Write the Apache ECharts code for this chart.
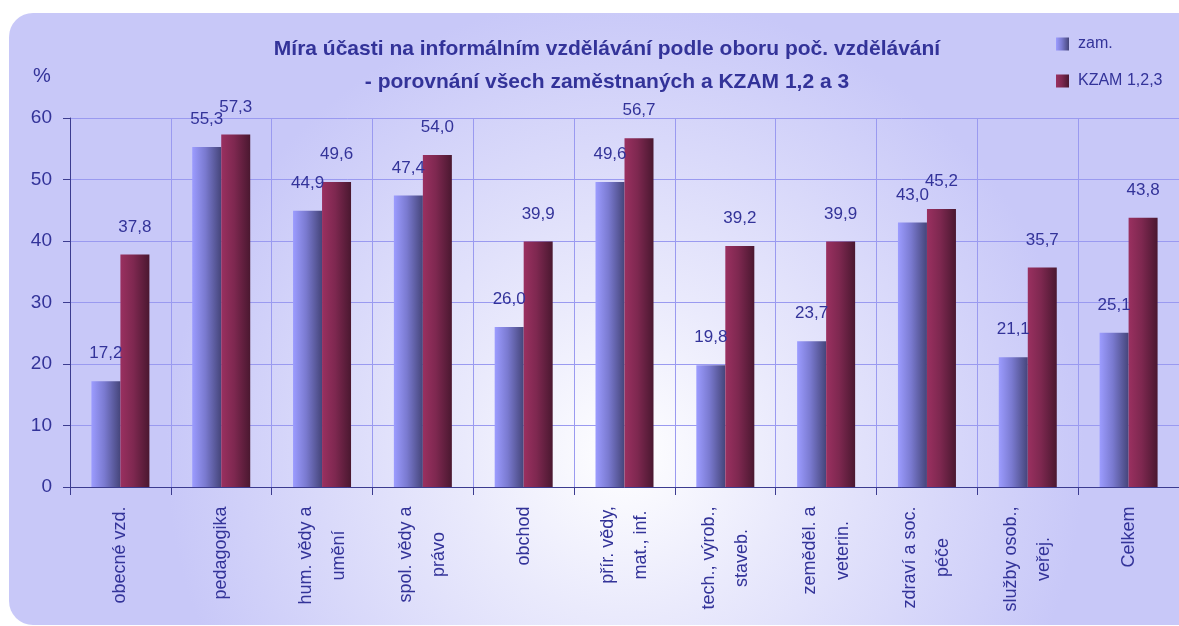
<!DOCTYPE html>
<html><head><meta charset="utf-8">
<script src="https://cdn.jsdelivr.net/npm/echarts@6/dist/echarts.min.js"></script>
<style>html,body{margin:0;padding:0;background:#fff}#c{width:1179px;height:626px}</style>
</head><body><div id="c"></div>
<script>
const categories = ['obecné vzd.', 'pedagogika', 'hum. vědy a\numění', 'spol. vědy a\nprávo', 'obchod', 'přír. vědy,\nmat., inf.', 'tech., výrob.,\nstaveb.', 'zeměděl. a\nveterin.', 'zdraví a soc.\npéče', 'služby osob.,\nveřej.', 'Celkem'];
const zam = [17.2, 55.3, 44.9, 47.4, 26.0, 49.6, 19.8, 23.7, 43.0, 21.1, 25.1];
const kzam = [37.8, 57.3, 49.6, 54.0, 39.9, 56.7, 39.2, 39.9, 45.2, 35.7, 43.8];
const seriesNames = ['zam.', 'KZAM 1,2,3'];
const yTicks = [0, 10, 20, 30, 40, 50, 60];

const FONT = 'Liberation Sans, Arial, sans-serif';
const TXT = '#333399';
const labelFontSize = 18;

// measure label lines to center lines within each block
const cv = document.createElement('canvas').getContext('2d');
cv.font = labelFontSize + 'px ' + FONT;
const rich = {};
categories.forEach((c, i) => {
  const w = Math.max(...c.split('\n').map(s => cv.measureText(s).width));
  rich['c' + i] = { width: Math.ceil(w) + 2, align: 'center', fontSize: labelFontSize, fontFamily: FONT, color: TXT, lineHeight: 33 };
});

const blueGrad = new echarts.graphic.LinearGradient(0, 0, 1, 0, [
  { offset: 0, color: '#9c9cff' }, { offset: 0.45, color: '#7a7ad0' }, { offset: 1, color: '#45457a' }]);
const redGrad = new echarts.graphic.LinearGradient(0, 0, 1, 0, [
  { offset: 0, color: '#9a3060' }, { offset: 0.45, color: '#7e2850' }, { offset: 1, color: '#4a1830' }]);

const chart = echarts.init(document.getElementById('c'), null, { renderer: 'canvas' });
const lbl = {
  show: true, position: 'top', distance: 19, color: TXT, fontSize: 17, fontFamily: FONT,
  formatter: p => p.value.toFixed(1).replace('.', ',')
};
chart.setOption({
  animation: false,
  backgroundColor: '#ffffff',
  graphic: [{
    type: 'rect', z: -10, silent: true,
    shape: { x: 9, y: 13, width: 1185, height: 612, r: [24, 10, 0, 24] },
    style: {
      fill: new echarts.graphic.RadialGradient(0.52, 0.72, 0.75, [
        { offset: 0, color: '#ffffff' }, { offset: 0.35, color: '#eaeafc' }, { offset: 1, color: '#c8c8f8' }])
    }
  }, {
    type: 'text', left: 33, top: 66, silent: true,
    style: { text: '%', fontSize: 20, fontFamily: FONT, fill: TXT }
  }],
  title: {
    text: 'Míra účasti na informálním vzdělávání podle oboru poč. vzdělávání\n- porovnání všech zaměstnaných a KZAM 1,2 a 3',
    left: 602, top: 28, textAlign: 'center',
    textStyle: { color: TXT, fontSize: 21, fontWeight: 'bold', fontFamily: FONT, lineHeight: 33 }
  },
  legend: {
    orient: 'vertical', left: 1051, top: 31, itemWidth: 13, itemHeight: 13, itemGap: 21,
    icon: 'rect', data: seriesNames,
    textStyle: { color: TXT, fontSize: 16, fontFamily: FONT, padding: [0, 0, 0, 4] }
  },
  grid: { left: 70, right: 0, top: 118, bottom: 139, containLabel: false },
  xAxis: {
    type: 'category', data: categories,
    axisLine: { lineStyle: { color: '#3c3c90', width: 1 } },
    axisTick: { show: true, length: 8, inside: false, lineStyle: { color: '#3c3c90' } },
    splitLine: { show: true, lineStyle: { color: '#9a9af0', width: 1 } },
    axisLabel: {
      rotate: 90, interval: 0, margin: 18, color: TXT, fontSize: labelFontSize, fontFamily: FONT,
      formatter: (v, i) => v.split('\n').map(s => '{c' + i + '|' + s + '}').join('\n'),
      rich: rich
    }
  },
  yAxis: {
    type: 'value', min: yTicks[0], max: yTicks[yTicks.length - 1], interval: 10,
    axisLine: { show: true, lineStyle: { color: '#3c3c90' } },
    axisTick: { show: true, length: 7, lineStyle: { color: '#3c3c90' } },
    splitLine: { show: true, lineStyle: { color: '#9a9af0', width: 1 } },
    axisLabel: { margin: 18, color: TXT, fontSize: 19, fontFamily: FONT }
  },
  series: [
    { name: seriesNames[0], type: 'bar', data: zam, barWidth: 29, barGap: '0%', itemStyle: { color: blueGrad }, label: lbl },
    { name: seriesNames[1], type: 'bar', data: kzam, barWidth: 29, barGap: '0%', itemStyle: { color: redGrad }, label: lbl }
  ]
});
</script>
</body></html>
